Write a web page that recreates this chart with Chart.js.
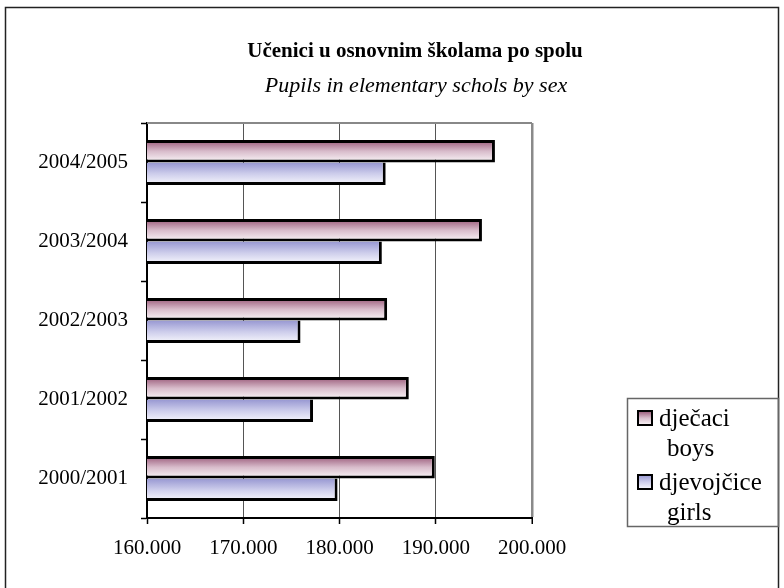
<!DOCTYPE html>
<html>
<head>
<meta charset="utf-8">
<script src="https://cdn.jsdelivr.net/npm/chart.js@4.4.0/dist/chart.umd.min.js"></script>
<style>
  body { margin: 0; background: #fff; }
  canvas { display: block; }
</style>
</head>
<body>
<canvas id="chart" width="784" height="588"></canvas>
<script>
// data
const categories = ['2000/2001', '2001/2002', '2002/2003', '2003/2004', '2004/2005'];
const boys = [189900, 187200, 184950, 194800, 196150];
const girls = [179800, 177250, 175950, 184400, 184800];
const xTicks = [160000, 170000, 180000, 190000, 200000];
const seriesNames = [['dječaci', 'boys'], ['djevojčice', 'girls']];
const titleText = 'Učenici u osnovnim školama po spolu';
const subtitleText = 'Pupils in elementary schols by sex';

const CAT_PCT = 0.57;
const SERIF = "'Liberation Serif', 'Times New Roman', serif";
const boyColors = ['#975676', '#d8bccb', '#fbf7f9'];
const girlColors = ['#9898d2', '#cdcdeb', '#f8f8fd'];

function fmt(v) {
    return Math.floor(v / 1000) + '.' + String(v % 1000).padStart(3, '0');
}

function makeGradient(c, top, h, colors) {
    const g = c.createLinearGradient(0, top, 0, top + h);
    g.addColorStop(0, colors[0]);
    g.addColorStop(0.5, colors[1]);
    g.addColorStop(1, colors[2]);
    return g;
}

function barFill(colors) {
    return function(ctx) {
        const chart = ctx.chart;
        const y = chart.scales.y;
        if (!y || ctx.type !== 'data') return colors[1];
        const size = y.height / categories.length * CAT_PCT;
        const center = y.getPixelForValue(ctx.dataIndex);
        const top = center - size / 2 + ctx.datasetIndex * size / 2;
        if (!isFinite(top) || !isFinite(size) || size <= 0) return colors[1];
        return makeGradient(chart.ctx, top, size / 2, colors);
    };
}

// frame, titles, plot border and the two-line legend
const decor = {
    id: 'decor',
    beforeDraw(chart) {
        const c = chart.ctx;
        c.save();
        c.fillStyle = '#fff';
        c.fillRect(0, 0, chart.width, chart.height);
        c.strokeStyle = '#222';
        c.lineWidth = 1.5;
        c.strokeRect(5.5, 7.5, 773, 600);
        c.restore();
    },
    beforeDatasetsDraw(chart) {
        const a = chart.chartArea;
        const c = chart.ctx;
        c.save();
        c.strokeStyle = '#888';
        c.lineWidth = 2;
        c.beginPath();
        c.moveTo(a.left, a.top);
        c.lineTo(a.right, a.top);
        c.stroke();
        c.restore();
    },
    afterDraw(chart) {
        const c = chart.ctx;
        c.save();
        c.fillStyle = '#000';
        c.textAlign = 'center';
        c.textBaseline = 'middle';
        c.font = 'bold 21px ' + SERIF;
        c.fillText(titleText, 415, 52);
        c.font = 'italic 22px ' + SERIF;
        c.fillText(subtitleText, 416, 86);

        // legend box
        c.strokeStyle = '#666';
        c.lineWidth = 1.5;
        c.strokeRect(627.5, 398.5, 151, 128);
        c.font = '25px ' + SERIF;
        c.textAlign = 'left';
        const rows = [418, 482];
        const fills = [boyColors, girlColors];
        seriesNames.forEach((names, i) => {
            const yy = rows[i];
            c.fillStyle = makeGradient(c, yy - 7, 14, fills[i]);
            c.fillRect(638, yy - 7, 14, 14);
            c.strokeStyle = '#000';
            c.lineWidth = 2;
            c.strokeRect(638, yy - 7, 14, 14);
            c.fillStyle = '#000';
            c.fillText(names[0], 659, yy + 1);
            c.fillText(names[1], 667, yy + 31);
        });
        c.restore();
    }
};

new Chart(document.getElementById('chart'), {
    type: 'bar',
    data: {
        labels: categories,
        datasets: [{
            label: seriesNames[0].join(' '),
            data: boys,
            backgroundColor: barFill(boyColors),
            borderColor: '#000',
            borderWidth: 3,
            borderSkipped: false
        }, {
            label: seriesNames[1].join(' '),
            data: girls,
            backgroundColor: barFill(girlColors),
            borderColor: '#000',
            borderWidth: 3,
            borderSkipped: 'top'
        }]
    },
    options: {
        indexAxis: 'y',
        responsive: false,
        animation: false,
        devicePixelRatio: 1,
        categoryPercentage: CAT_PCT,
        barPercentage: 1,
        layout: { padding: { left: 0, top: 123, right: 252, bottom: 0 } },
        plugins: {
            legend: { display: false },
            title: { display: false },
            tooltip: { enabled: false }
        },
        scales: {
            x: {
                type: 'linear',
                min: 160000,
                max: 200000,
                afterBuildTicks: scale => { scale.ticks = xTicks.map(v => ({ value: v })); },
                afterFit: scale => { scale.height = 70; },
                border: { display: true, color: '#000', width: 2 },
                grid: {
                    color: ctx => ctx.tick && ctx.tick.value === 200000 ? '#8a8a8a' : '#555',
                    lineWidth: ctx => ctx.tick && ctx.tick.value === 200000 ? 2.5 : 1,
                    tickColor: '#000',
                    tickWidth: 1.5,
                    tickLength: 6
                },
                ticks: {
                    color: '#000',
                    font: { family: SERIF, size: 21 },
                    padding: 12,
                    maxRotation: 0,
                    callback: v => fmt(v)
                }
            },
            y: {
                reverse: true,
                afterFit: scale => { scale.width = 147; },
                border: { display: true, color: '#000', width: 2 },
                grid: {
                    offset: true,
                    drawOnChartArea: false,
                    tickColor: '#000',
                    tickWidth: 1.5,
                    tickLength: 6
                },
                ticks: {
                    color: '#000',
                    font: { family: SERIF, size: 21 },
                    padding: 13
                }
            }
        }
    },
    plugins: [decor]
});
</script>
</body>
</html>
